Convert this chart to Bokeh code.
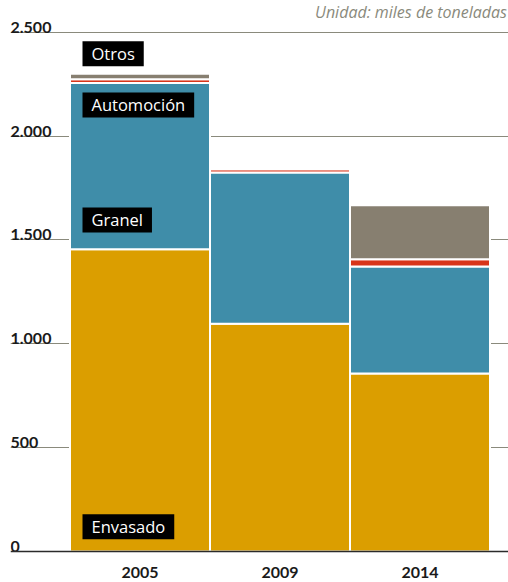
from bokeh.plotting import figure
from bokeh.models import Range1d, Span, FixedTicker, ColumnDataSource
from bokeh.core.properties import value
from bokeh.embed import file_html
from bokeh.resources import INLINE

# ---- data ----
years = ["2005", "2009", "2014"]
categories = ["Envasado", "Granel", "Automoción", "Otros"]
envasado = [1455, 1096, 857]
granel = [800, 729, 515]
automocion = [18, 15, 35]
otros = [27, 0, 260]
y_ticks = [0, 500, 1000, 1500, 2000, 2500]
y_tick_labels = ["0", "500", "1.000", "1.500", "2.000", "2.500"]
unit_note = "Unidad: miles de toneladas"

# ---- style / layout ----
colors = ["#DB9E00", "#3F8DA9", "#D8351A", "#877F70"]
label_y = [119, 1596, 2150, 2396]  # vertical placement of category tags
PX = 2500 / 519.3  # data units per pixel
TICK_FONT = "Lato"
TAG_FONT = "Open Sans"

xs = list(range(len(years)))
x0 = -0.925
x1 = x0 + 498 / 140
p = figure(width=508, height=582,
           x_range=Range1d(x0, x1), y_range=Range1d(-31 * PX, 551 * PX),
           x_axis_location=None, y_axis_location=None,
           output_backend="svg", toolbar_location=None,
           min_border_left=10, min_border_right=0, min_border_top=0, min_border_bottom=0)
p.outline_line_color = None
p.xgrid.visible = False
p.ygrid.ticker = FixedTicker(ticks=y_ticks[1:])
p.ygrid.grid_line_color = "#8a8a7c"
p.ygrid.grid_line_width = 1.2

src = ColumnDataSource(dict(x=xs, Envasado=envasado, Granel=granel,
                            Automoción=automocion, Otros=otros))
p.vbar_stack(categories, x="x", width=1, color=colors, line_color="white",
             line_width=2, source=src)

p.add_layout(Span(location=0, dimension="width", line_color="#2b2b2b", line_width=1.5))

# y tick labels above gridlines
p.text(x=[x0] * len(y_ticks), y=[t + 5 * PX for t in y_ticks], text=y_tick_labels,
       text_font=value(TICK_FONT), text_font_style="bold", text_font_size="16px",
       text_color="#1a1a1a", text_align="left", text_baseline="alphabetic")

# year labels
p.text(x=xs, y=[-21 * PX] * len(xs), text=years,
       text_font=value(TICK_FONT), text_font_style="bold", text_font_size="16px",
       text_color="#1a1a1a", text_align="center", text_baseline="middle")

# unit note
p.text(x=[x1 - 1.5 / 140], y=[540 * PX], text=[unit_note],
       text_font=value(TAG_FONT), text_font_style="italic", text_font_size="16px",
       text_color="#8a8a7c", text_align="right", text_baseline="alphabetic")

# category tags
p.text(x=[-0.4107] * len(categories), y=label_y, text=categories,
       text_font=value(TAG_FONT), text_font_size="16.5px", text_color="white",
       text_align="left", text_baseline="middle",
       background_fill_color="black", padding=(9, 1))

open("out.html", "w").write(file_html(p, INLINE))
